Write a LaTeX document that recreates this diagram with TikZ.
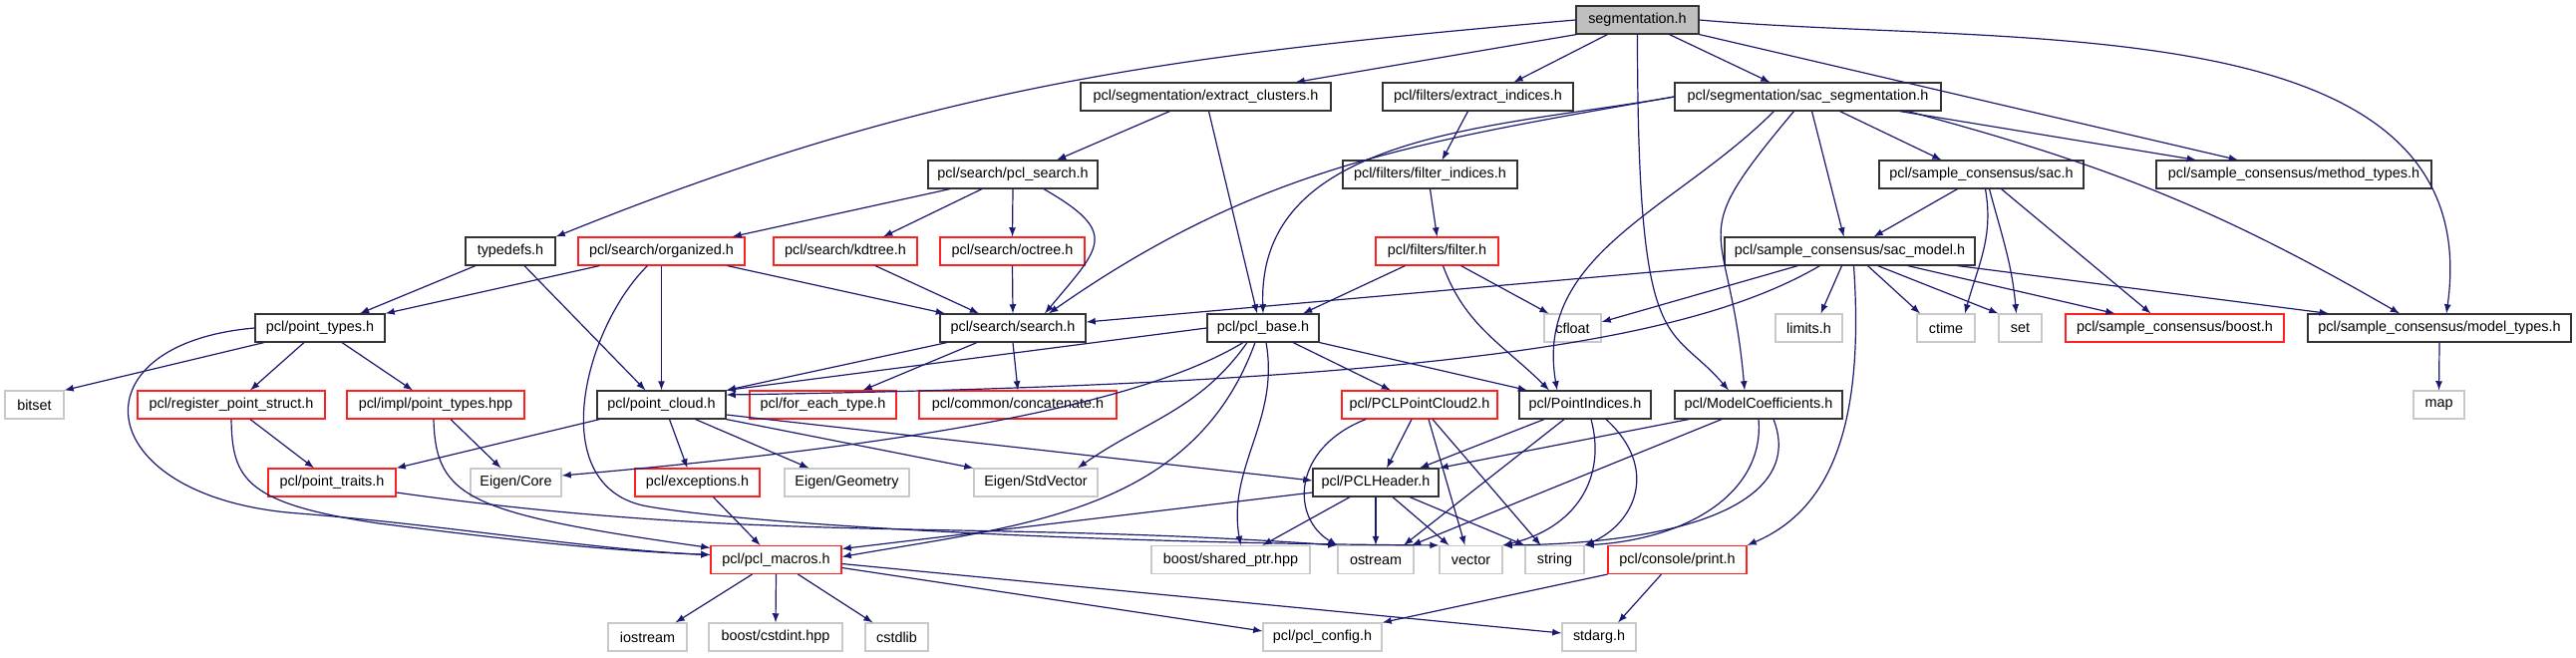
\documentclass[tikz,border=0pt]{standalone}
\usepackage{fontspec}
\setmainfont{Liberation Sans}
\usepackage{tikz}
\usetikzlibrary{shapes,arrows,positioning}
\definecolor{edgeblue}{HTML}{191970}
\definecolor{rootgray}{HTML}{BFBFBF}
\definecolor{sysgray}{HTML}{C8C8C8}
\definecolor{truncred}{HTML}{FF2020}
\tikzstyle{block} = [rectangle, draw=black!80, line width=0.55pt, fill=white, minimum height=14pt, inner sep=0pt, font=\fontsize{7.2}{8.6}\selectfont]
\tikzstyle{root} = [block, fill=rootgray]
\tikzstyle{trunc} = [block, draw=truncred]
\tikzstyle{sys} = [block, draw=sysgray]
\tikzstyle{line} = [draw=edgeblue, line width=0.6pt, -latex]

\begin{document}
\begin{tikzpicture}[x=0.5pt, y=0.5pt]
            \useasboundingbox (0,0) rectangle (2584,-659);

            \node[root, minimum width=61.5pt]   (segmentation) at (1642.5,-20) {segmentation.h};

            \node[block, minimum width=125.5pt] (extract_clusters) at (1209.5,-97) {pcl/segmentation/extract\_clusters.h};
            \node[block, minimum width=95.5pt]  (extract_indices) at (1482.5,-97) {pcl/filters/extract\_indices.h};
            \node[block, minimum width=133.5pt] (sac_segmentation) at (1813.5,-97) {pcl/segmentation/sac\_segmentation.h};
            \path[line] ([xshift=-30.5pt]segmentation.south) -- ([xshift=45pt]extract_clusters.north);
            \path[line] ([xshift=-15pt]segmentation.south) -- ([xshift=18pt]extract_indices.north);
            \path[line] ([xshift=16pt]segmentation.south) -- ([xshift=-19pt]sac_segmentation.north);

            \node[block, minimum width=85pt]    (pcl_search) at (1016,-175) {pcl/search/pcl\_search.h};
            \node[block, minimum width=87.5pt]  (filter_indices) at (1434.5,-175) {pcl/filters/filter\_indices.h};
            \node[block, minimum width=102.5pt] (sac) at (1987.5,-175) {pcl/sample\_consensus/sac.h};
            \node[block, minimum width=138pt]   (method_types) at (2301,-175) {pcl/sample\_consensus/method\_types.h};
            \path[line] ([xshift=-18pt]extract_clusters.south) -- ([xshift=22pt]pcl_search.north);
            \path[line] ([xshift=-5pt]extract_indices.south) -- ([xshift=6pt]filter_indices.north);
            \path[line] ([xshift=16pt]sac_segmentation.south) -- ([xshift=-20pt]sac.north);
            \path[line] (segmentation.south east) -- ([xshift=-28pt]method_types.north);
            \path[line] ([xshift=46pt]sac_segmentation.south) -- ([xshift=-49pt]method_types.north);

            \node[block, minimum width=45pt]    (typedefs) at (512,-252) {typedefs.h};
            \node[trunc, minimum width=83.5pt]  (organized) at (663.5,-252) {pcl/search/organized.h};
            \node[trunc, minimum width=72pt]    (kdtree) at (848,-252) {pcl/search/kdtree.h};
            \node[trunc, minimum width=72.5pt]  (octree) at (1015.5,-252) {pcl/search/octree.h};
            \node[trunc, minimum width=61.5pt]  (filter) at (1441.5,-252) {pcl/filters/filter.h};
            \node[block, minimum width=125.5pt] (sac_model) at (1855.5,-252) {pcl/sample\_consensus/sac\_model.h};
            \path[line] (segmentation.west) to[out=185, in=22] (typedefs.north east);
            \path[line] ([xshift=-31.5pt]pcl_search.south) -- ([xshift=35.5pt]organized.north);
            \path[line] ([xshift=-15.5pt]pcl_search.south) -- ([xshift=19pt]kdtree.north);
            \path[line] (pcl_search.south) -- (octree.north);
            \path[line] (filter_indices.south) -- (filter.north);
            \path[line] ([xshift=2pt]sac_segmentation.south) -- ([xshift=-3pt]sac_model.north);
            \path[line] ([xshift=-12pt]sac.south) -- ([xshift=12pt]sac_model.north);

            \node[block, minimum width=65pt]    (point_types) at (321,-329) {pcl/point\_types.h};
            \node[block, minimum width=73pt]    (search) at (1016,-329) {pcl/search/search.h};
            \node[block, minimum width=56pt]    (pcl_base) at (1267,-329) {pcl/pcl\_base.h};
            \node[sys, minimum width=28.5pt]    (cfloat) at (1577.5,-329) {cfloat};
            \node[sys, minimum width=33.5pt]    (limits) at (1814.5,-329) {limits.h};
            \node[sys, minimum width=29pt]      (ctime) at (1952,-329) {ctime};
            \node[sys, minimum width=21.5pt]    (std_set) at (2026.5,-329) {set};
            \node[trunc, minimum width=109.5pt] (sac_boost) at (2181.5,-329) {pcl/sample\_consensus/boost.h};
            \node[block, minimum width=132pt]   (model_types) at (2447,-329) {pcl/sample\_consensus/model\_types.h};
            \path[line] ([xshift=-17.5pt]typedefs.south) -- ([xshift=20pt]point_types.north);
            \path[line] ([xshift=-31pt]organized.south) -- (point_types.north east);
            \path[line] ([xshift=33pt]organized.south) -- ([xshift=-34pt]search.north);
            \path[line] ([xshift=15pt]kdtree.south) -- ([xshift=-17pt]search.north);
            \path[line] (octree.south) -- (search.north);
            \path[line] ([xshift=15.5pt]pcl_search.south) to[out=-30, in=50, looseness=1.8] ([xshift=16pt]search.north);
            \path[line] (sac_segmentation.west) to[out=190, in=35] ([xshift=18pt]search.north);
            \path[line] (sac_model.south west) -- ([yshift=3pt]search.east);
            \path[line] ([xshift=1.5pt]extract_clusters.south) -- ([xshift=-3pt]pcl_base.north);
            \path[line] (sac_segmentation.west) to[out=190, in=92] (pcl_base.north);
            \path[line] ([xshift=-16pt]filter.south) -- ([xshift=20pt]pcl_base.north);
            \path[line] ([xshift=12pt]filter.south) -- ([xshift=-12pt]cfloat.north);
            \path[line] ([xshift=-26pt]sac_model.south) -- ([yshift=3pt]cfloat.east);
            \path[line] ([xshift=-4pt]sac_model.south) -- ([xshift=6pt]limits.north);
            \path[line] ([xshift=9pt]sac_model.south) -- ([xshift=-13pt]ctime.north);
            \path[line] ([xshift=2pt]sac.south) to[out=-80, in=75] ([xshift=9.5pt]ctime.north);
            \path[line] ([xshift=14pt]sac_model.south) -- (std_set.north west);
            \path[line] ([xshift=4pt]sac.south) to[out=-75, in=95] ([xshift=-2pt]std_set.north);
            \path[line] ([xshift=29pt]sac_model.south) -- ([xshift=-30pt]sac_boost.north);
            \path[line] ([xshift=10pt]sac.south) -- ([xshift=-12pt]sac_boost.north);
            \path[line] ([xshift=54pt]sac_model.south) -- ([xshift=-55.5pt]model_types.north);
            \path[line] ([xshift=50pt]sac_segmentation.south) to[out=-15, in=150] ([xshift=-20pt]model_types.north);
            \path[line] (segmentation.east) to[out=-5, in=82] ([xshift=3.5pt]model_types.north);

            \node[sys, minimum width=29.5pt]    (bitset) at (34.5,-406) {bitset};
            \node[trunc, minimum width=94pt]    (register_point_struct) at (232,-406) {pcl/register\_point\_struct.h};
            \node[trunc, minimum width=89pt]    (impl_point_types) at (437,-406) {pcl/impl/point\_types.hpp};
            \node[block, minimum width=64.5pt]  (point_cloud) at (663.5,-406) {pcl/point\_cloud.h};
            \node[trunc, minimum width=73.5pt]  (for_each_type) at (825.5,-406) {pcl/for\_each\_type.h};
            \node[trunc, minimum width=99pt]    (concatenate) at (1021,-406) {pcl/common/concatenate.h};
            \node[trunc, minimum width=78pt]    (pcl_point_cloud2) at (1424,-406) {pcl/PCLPointCloud2.h};
            \node[block, minimum width=66pt]    (point_indices) at (1590,-406) {pcl/PointIndices.h};
            \node[block, minimum width=84pt]    (model_coefficients) at (1764,-406) {pcl/ModelCoefficients.h};
            \node[sys, minimum width=25.5pt]    (std_map) at (2446.5,-406) {map};
            \path[line] ([xshift=-28pt]point_types.south) -- (bitset.north east);
            \path[line] ([xshift=-8pt]point_types.south) -- ([xshift=9.5pt]register_point_struct.north);
            \path[line] ([xshift=11pt]point_types.south) -- ([xshift=-11.5pt]impl_point_types.north);
            \path[line] ([xshift=7pt]typedefs.south) -- ([xshift=-8pt]point_cloud.north);
            \path[line] (organized.south) -- (point_cloud.north);
            \path[line] ([xshift=-33pt]search.south) -- (point_cloud.north east);
            \path[line] (pcl_base.west) -- (point_cloud.north east);
            \path[line] ([xshift=-15pt]sac_model.south) .. controls (1700,-340) and (1450,-385) .. ([yshift=5pt]point_cloud.east);
            \path[line] ([xshift=-18pt]search.south) -- ([xshift=20pt]for_each_type.north);
            \path[line] (search.south) -- (concatenate.north);
            \path[line] ([xshift=15pt]pcl_base.south) -- ([xshift=-14.5pt]pcl_point_cloud2.north);
            \path[line] (pcl_base.south east) -- ([xshift=-29pt]point_indices.north);
            \path[line] ([xshift=3pt]filter.south) to[out=-70, in=135] ([xshift=-18pt]point_indices.north);
            \path[line] ([xshift=-17pt]sac_segmentation.south) to[out=-135, in=100] ([xshift=-14pt]point_indices.north);
            \path[line] ([xshift=-7pt]sac_segmentation.south) to[out=-130, in=95, looseness=1.6] ([xshift=-7pt]model_coefficients.north);
            \path[line] (segmentation.south) .. controls +(0,-330) and +(-60,70) .. ([xshift=-15pt]model_coefficients.north);
            \path[line] (model_types.south) -- (std_map.north);

            \node[trunc, minimum width=64pt]    (point_traits) at (333,-484) {pcl/point\_traits.h};
            \node[sys, minimum width=45.5pt]    (eigen_core) at (517.5,-484) {Eigen/Core};
            \node[trunc, minimum width=62.5pt]  (exceptions) at (699.5,-484) {pcl/exceptions.h};
            \node[sys, minimum width=62.5pt]    (eigen_geometry) at (849.5,-484) {Eigen/Geometry};
            \node[sys, minimum width=62pt]      (eigen_std_vector) at (1039,-484) {Eigen/StdVector};
            \node[block, minimum width=63pt]    (pcl_header) at (1380,-484) {pcl/PCLHeader.h};
            \path[line] ([xshift=9.5pt]register_point_struct.south) -- ([xshift=-9pt]point_traits.north);
            \path[line] ([xshift=-31pt]point_cloud.south) -- (point_traits.north east);
            \path[line] ([xshift=7.5pt]impl_point_types.south) -- ([xshift=-7.5pt]eigen_core.north);
            \path[line] ([xshift=-10pt]pcl_base.south) .. controls (1130,-415) and (850,-452) .. ([yshift=3.5pt]eigen_core.east);
            \path[line] ([xshift=4pt]point_cloud.south) -- ([xshift=-5pt]exceptions.north);
            \path[line] ([xshift=17pt]point_cloud.south) -- ([xshift=-19pt]eigen_geometry.north);
            \path[line] (point_cloud.south east) -- (eigen_std_vector.north west);
            \path[line] ([xshift=-8pt]pcl_base.south) to[out=-125, in=35] ([xshift=21pt]eigen_std_vector.north);
            \path[line] ([yshift=-5pt]point_cloud.east) -- ([yshift=1pt]pcl_header.west);
            \path[line] ([xshift=-4pt]pcl_point_cloud2.south) -- ([xshift=5.5pt]pcl_header.north);
            \path[line] ([xshift=-20.5pt]point_indices.south) -- ([xshift=22pt]pcl_header.north);
            \path[line] ([xshift=-35pt]model_coefficients.south) -- (pcl_header.north east);

            \node[trunc, minimum width=65.5pt]  (pcl_macros) at (778.5,-561.5) {pcl/pcl\_macros.h};
            \node[sys, minimum width=79.5pt]    (shared_ptr) at (1234.5,-561.5) {boost/shared\_ptr.hpp};
            \node[sys, minimum width=38pt]      (ostream) at (1380,-561.5) {ostream};
            \node[sys, minimum width=31.5pt]    (vector) at (1475.5,-561.5) {vector};
            \node[sys, minimum width=29.5pt]    (string) at (1559.5,-561.5) {string};
            \node[trunc, minimum width=69.5pt]  (console_print) at (1682.5,-561.5) {pcl/console/print.h};
            \path[line] (point_types.west) .. controls (70,-345) and (90,-500) .. (300,-515) .. controls (450,-527) and (600,-552) .. ([yshift=2.5pt]pcl_macros.west);
            \path[line] (register_point_struct.south) .. controls (233,-480) and (245,-505) .. (380,-525) .. controls (500,-540) and (600,-552) .. ([yshift=2.5pt]pcl_macros.west);
            \path[line] ([xshift=-1pt]impl_point_types.south) .. controls (437,-500) and (470,-515) .. ([yshift=6pt]pcl_macros.west);
            \path[line] ([xshift=8pt]exceptions.south) -- ([xshift=-8pt]pcl_macros.north);
            \path[line] ([xshift=-4pt]pcl_base.south) to[out=-110, in=10] ([yshift=1.5pt]pcl_macros.east);
            \path[line] ([yshift=-5pt]pcl_header.west) -- ([yshift=5.5pt]pcl_macros.east);
            \path[line] ([xshift=1.5pt]pcl_base.south) to[out=-80, in=100] ([xshift=5pt]shared_ptr.north);
            \path[line] ([xshift=-13pt]pcl_header.south) -- ([xshift=16pt]shared_ptr.north);
            \path[line] ([yshift=-5pt]point_traits.east) to[out=-8, in=176] (ostream.north west);
            \path[line] ([xshift=-27pt]pcl_point_cloud2.south) .. controls (1295,-450) and (1295,-520) .. (ostream.north west);
            \path[line] (pcl_header.south) -- (ostream.north);
            \path[line] ([xshift=-10.5pt]point_indices.south) -- ([xshift=14pt]ostream.north);
            \path[line] ([xshift=-18.5pt]model_coefficients.south) -- ([xshift=18pt]ostream.north);
            \path[line] ([xshift=-7pt]organized.south) .. controls (585,-330) and (545,-490) .. (650,-508) .. controls (760,-527) and (1100,-545) .. (vector.north west);
            \path[line] ([xshift=4.5pt]pcl_point_cloud2.south) -- ([xshift=-3pt]vector.north);
            \path[line] ([xshift=8.5pt]pcl_header.south) -- ([xshift=-11pt]vector.north);
            \path[line] ([xshift=3pt]point_indices.south) .. controls (1612,-480) and (1580,-530) .. (vector.north east);
            \path[line] ([xshift=7.5pt]model_coefficients.south) .. controls (1810,-500) and (1700,-545) .. (vector.north east);
            \path[line] ([xshift=6.5pt]pcl_point_cloud2.south) -- ([xshift=-7pt]string.north);
            \path[line] ([xshift=17pt]pcl_header.south) -- (string.north west);
            \path[line] ([xshift=10.5pt]point_indices.south) .. controls (1665,-470) and (1640,-525) .. (string.north east);
            \path[line] (model_coefficients.south) .. controls (1770,-490) and (1700,-540) .. (string.north east);
            \path[line] ([xshift=2pt]sac_model.south) .. controls (1870,-420) and (1840,-510) .. (console_print.north east);

            \node[sys, minimum width=39.5pt]    (iostream) at (649.5,-639) {iostream};
            \node[sys, minimum width=67pt]      (cstdint) at (778,-639) {boost/cstdint.hpp};
            \node[sys, minimum width=31.5pt]    (cstdlib) at (899.5,-639) {cstdlib};
            \node[sys, minimum width=59.5pt]    (pcl_config) at (1326.5,-639) {pcl/pcl\_config.h};
            \node[sys, minimum width=37pt]      (stdarg) at (1604,-639) {stdarg.h};
            \path[line] ([xshift=-12pt]pcl_macros.south) -- ([xshift=14pt]iostream.north);
            \path[line] (pcl_macros.south) -- (cstdint.north);
            \path[line] ([xshift=11pt]pcl_macros.south) -- ([xshift=-12pt]cstdlib.north);
            \path[line] ([yshift=-4pt]pcl_macros.east) -- ([yshift=3pt]pcl_config.west);
            \path[line] ([yshift=-2pt]pcl_macros.east) -- ([yshift=2pt]stdarg.west);
            \path[line] (console_print.south west) -- (pcl_config.north east);
            \path[line] ([xshift=-8pt]console_print.south) -- ([xshift=9.5pt]stdarg.north);
\end{tikzpicture}
\end{document}
